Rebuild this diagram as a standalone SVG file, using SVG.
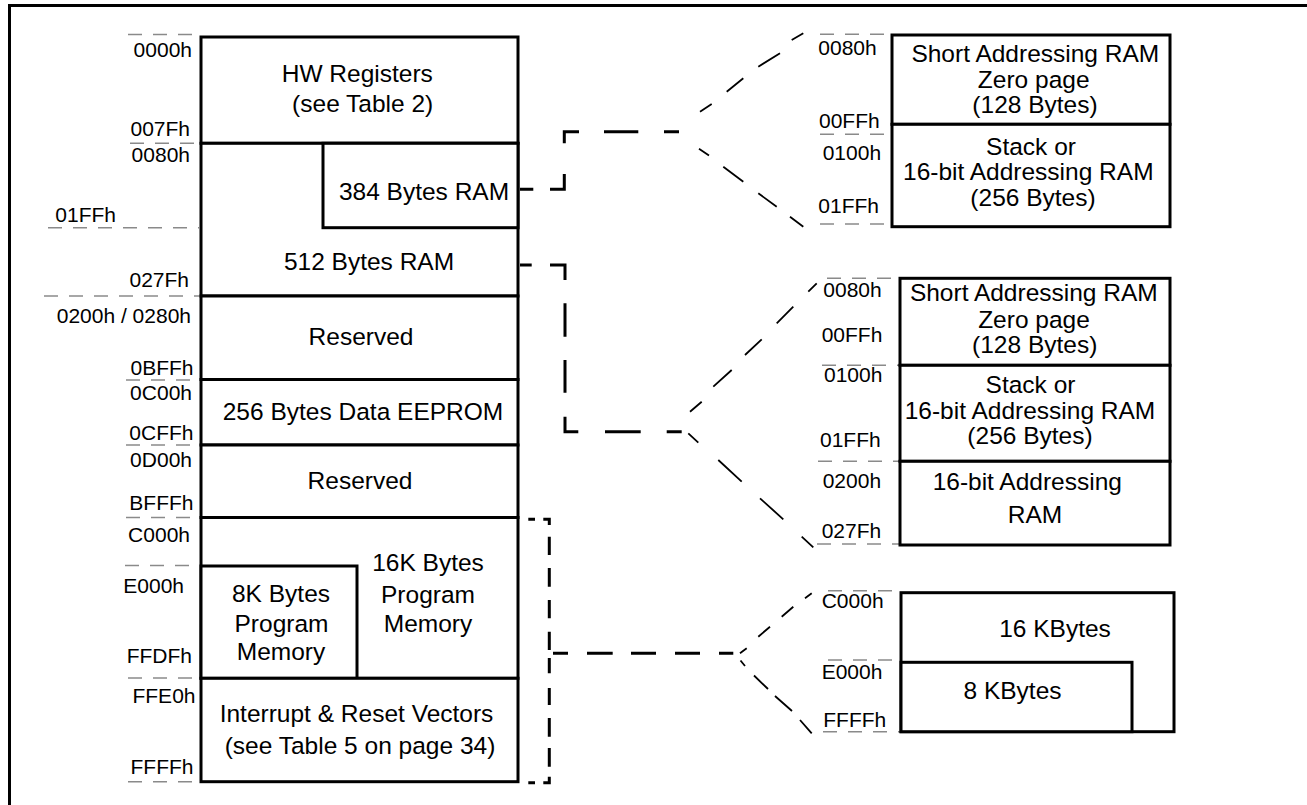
<svg xmlns="http://www.w3.org/2000/svg" width="1307" height="805" viewBox="0 0 1307 805">
<style>
text{font-family:"Liberation Sans",Arial,sans-serif;fill:#000}
.lbl{font-size:24.5px;text-anchor:middle}
.adr{font-size:21px;text-anchor:end}
.adl{font-size:21px;text-anchor:start}
.box{fill:#fff;stroke:#000;stroke-width:3}
.gd{fill:none;stroke:#8a8a8a;stroke-width:1.5;stroke-dasharray:14 11}
.cn{fill:none;stroke:#000;stroke-width:3}
.fan{fill:none;stroke:#000;stroke-width:1.8}
</style>
<rect width="1307" height="805" fill="#fff"/>
<path d="M9.5 805 V5.5 H1307" fill="none" stroke="#000" stroke-width="3"/>

<g id="address-guides">
<path class="gd" d="M128 34.5H199M130 143.3H199M48 227.7H199M44 296H199M126 380H199M126 445H199M126 517.5H199M125 565.5H199M128 678H199M128 781.7H199"/>
<path class="gd" d="M820 34.3H891M820 134.3H891M820 224H891M827 278.3H899M822 365.3H899M818 461.3H899M817 544H899M828 590.7H900M828 660H900M823 731.7H900"/>
</g>

<g id="left-addresses">
<text class="adr" x="192" y="57">0000h</text>
<text class="adr" x="190" y="136">007Fh</text>
<text class="adr" x="190" y="161.5">0080h</text>
<text class="adr" x="116" y="221.5">01FFh</text>
<text class="adr" x="189" y="287">027Fh</text>
<text class="adr" x="191" y="322.5">0200h / 0280h</text>
<text class="adr" x="193.5" y="375">0BFFh</text>
<text class="adr" x="192" y="400">0C00h</text>
<text class="adr" x="193.5" y="440">0CFFh</text>
<text class="adr" x="192" y="466.5">0D00h</text>
<text class="adr" x="193.5" y="510">BFFFh</text>
<text class="adr" x="190" y="541.5">C000h</text>
<text class="adr" x="184" y="593">E000h</text>
<text class="adr" x="192" y="663.3">FFDFh</text>
<text class="adr" x="195.5" y="703">FFE0h</text>
<text class="adr" x="193.5" y="774">FFFFh</text>
</g>

<g id="hw-registers">
<rect class="box" x="201" y="37" width="317" height="106.3"/>
<text class="lbl" x="357.3" y="82">HW Registers</text>
<text class="lbl" x="362.7" y="112">(see Table 2)</text>
</g>
<g id="ram-512">
<rect class="box" x="201" y="143.3" width="317" height="152.7"/>
<text class="lbl" x="369" y="270">512 Bytes RAM</text>
</g>
<g id="ram-384">
<rect class="box" x="323" y="143.3" width="195" height="84.4"/>
<text class="lbl" x="424" y="200">384 Bytes RAM</text>
</g>
<g id="reserved-1">
<rect class="box" x="201" y="296" width="317" height="83.5"/>
<text class="lbl" x="361" y="345">Reserved</text>
</g>
<g id="eeprom">
<rect class="box" x="201" y="379.5" width="317" height="65.5"/>
<text class="lbl" x="363" y="420">256 Bytes Data EEPROM</text>
</g>
<g id="reserved-2">
<rect class="box" x="201" y="445" width="317" height="72.5"/>
<text class="lbl" x="360" y="489">Reserved</text>
</g>
<g id="prog-16k">
<rect class="box" x="201" y="517.5" width="317" height="160.8"/>
<text class="lbl" x="428" y="570.7">16K Bytes</text>
<text class="lbl" x="428" y="603">Program</text>
<text class="lbl" x="428" y="631.7">Memory</text>
</g>
<g id="prog-8k">
<rect class="box" x="201" y="566" width="156" height="112.3"/>
<text class="lbl" x="281" y="601.7">8K Bytes</text>
<text class="lbl" x="281.5" y="631.7">Program</text>
<text class="lbl" x="281" y="660">Memory</text>
</g>
<g id="vectors">
<rect class="box" x="201" y="678.3" width="317" height="103.4"/>
<text class="lbl" x="356.5" y="721.7">Interrupt &amp; Reset Vectors</text>
<text class="lbl" x="360" y="754">(see Table 5 on page 34)</text>
</g>

<g id="right-addresses">
<text class="adl" x="818.3" y="55">0080h</text>
<text class="adl" x="819" y="128.3">00FFh</text>
<text class="adl" x="822.7" y="160">0100h</text>
<text class="adl" x="818.3" y="213.3">01FFh</text>
<text class="adl" x="823.3" y="296.7">0080h</text>
<text class="adl" x="821.7" y="341.7">00FFh</text>
<text class="adl" x="824" y="381.7">0100h</text>
<text class="adl" x="820" y="447.3">01FFh</text>
<text class="adl" x="822.7" y="488.3">0200h</text>
<text class="adl" x="821.7" y="537.7">027Fh</text>
<text class="adl" x="821.7" y="608.3">C000h</text>
<text class="adl" x="821.7" y="679">E000h</text>
<text class="adl" x="823.3" y="726.7">FFFFh</text>
</g>

<g id="zero-page-a">
<rect class="box" x="892" y="35" width="278" height="89.3"/>
<text class="lbl" x="1035.3" y="61.7">Short Addressing RAM</text>
<text class="lbl" x="1033.7" y="88.3">Zero page</text>
<text class="lbl" x="1035" y="113">(128 Bytes)</text>
</g>
<g id="stack-a">
<rect class="box" x="892" y="124.3" width="278" height="102.4"/>
<text class="lbl" x="1031" y="155">Stack or</text>
<text class="lbl" x="1028.3" y="180">16-bit Addressing RAM</text>
<text class="lbl" x="1033" y="206">(256 Bytes)</text>
</g>
<g id="zero-page-b">
<rect class="box" x="900" y="278.3" width="270" height="87"/>
<text class="lbl" x="1033.8" y="300.7">Short Addressing RAM</text>
<text class="lbl" x="1034" y="327.7">Zero page</text>
<text class="lbl" x="1034.7" y="352.7">(128 Bytes)</text>
</g>
<g id="stack-b">
<rect class="box" x="900" y="365.3" width="270" height="96"/>
<text class="lbl" x="1030.5" y="393">Stack or</text>
<text class="lbl" x="1030" y="418.5">16-bit Addressing RAM</text>
<text class="lbl" x="1030" y="443.5">(256 Bytes)</text>
</g>
<g id="ram-16bit">
<rect class="box" x="900" y="461.3" width="270" height="83.7"/>
<text class="lbl" x="1027.3" y="490">16-bit Addressing</text>
<text class="lbl" x="1035" y="523.3">RAM</text>
</g>
<g id="kbytes-16">
<rect class="box" x="901" y="592.7" width="273" height="139"/>
<text class="lbl" x="1055" y="636.7">16 KBytes</text>
</g>
<g id="kbytes-8">
<rect class="box" x="901" y="662.3" width="231" height="69.4"/>
<text class="lbl" x="1012.5" y="699.3">8 KBytes</text>
</g>

<g id="connectors">
<path class="cn" d="M520 189.3H533.3M550 189.3H564.3V174M564.3 143.3V131.7H579M604 131.7H638.3M664 131.7H679"/>
<path class="fan" d="M700 111.7L711.7 104M726.7 91.7L743.3 78.3M758.3 66.7L780 53.3M791.7 40L803.3 33.3M699 148.7L709 155.5M723.3 166.7L743.3 181.7M758.3 193.3L776.7 206.7M790 216.7L803.3 226.7"/>
<path class="cn" d="M520 265H531.7M550 265H565V280M565 303.3V336.7M565 360V392.7M565 416.7V431.7H578.3M605 431.7H640.7M666.7 431.7H681.7"/>
<path class="fan" d="M690 411.7L701.7 401.7M713.3 386.7L731.7 370M745 355L761.7 339.3M776.7 323.3L793.3 306.7M808.3 291.7L816.7 283.3M688.3 433.3L698.3 442.7M718.3 460L741.7 481.7M760 498.3L783.3 519.3M801.7 536.7L813.3 547.3"/>
<path class="cn" d="M528.3 519.3H535M543.3 519.3H549.3V525M549.3 536.7V555M549.3 568V586.7M549.3 600V618.3M549.3 631.7V650M549.3 658V673.3M549.3 688V705M549.3 718V736.7M549.3 748V766.7M549.3 776.7V782.7H543.3M535 782.7H528.3M553 653.3H568M587 653.3H612.7M631 653.3H656M675 653.3H700M719 653.3H733.3"/>
<path class="fan" d="M740 653.3L746.7 648.3M758.3 636.7L770 626.7M781.7 616.7L793.3 606.7M805 598.3L811.7 593.3M740.5 660.5L745 666M754 675.5L768 689M775 696L792 711M800 720L811.7 733.3"/>
</g>
</svg>
